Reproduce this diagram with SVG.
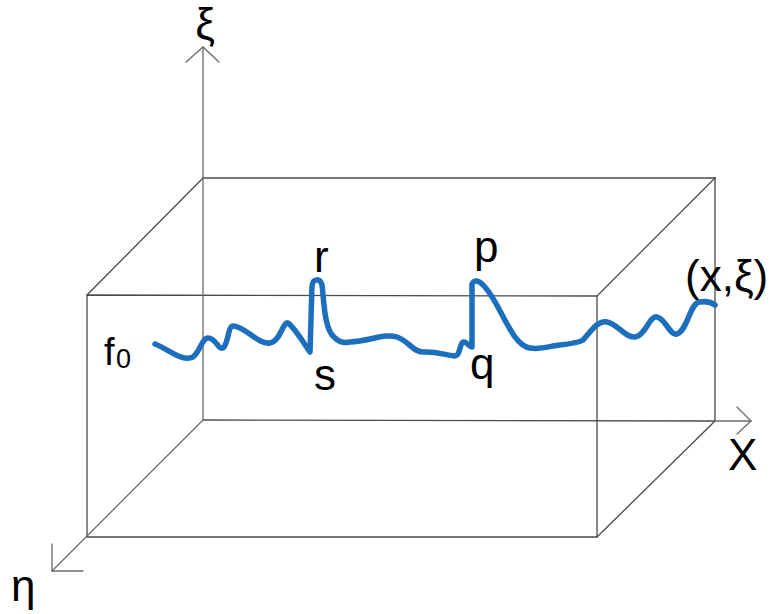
<svg xmlns="http://www.w3.org/2000/svg" width="779" height="614" viewBox="0 0 779 614">
<style>
.ln{stroke:#4a4a4a;stroke-width:1.3;fill:none;stroke-linecap:round}
.ax{stroke:#6a6a6a;stroke-width:1.3;fill:none;stroke-linecap:round;stroke-linejoin:miter}
.lb{font-family:"Liberation Sans",Arial,sans-serif;font-size:44px;fill:#000}
.curve{stroke:#1b6fbc;stroke-width:5.5;fill:none;stroke-linecap:round;stroke-linejoin:round}
</style>
<rect width="779" height="614" fill="#fff"/>
<g id="connectors">
  <line class="ln" x1="203" y1="178" x2="715" y2="178"/>
  <line class="ln" x1="715" y1="178" x2="715" y2="421"/>
  <line class="ln" x1="203" y1="420" x2="715" y2="421"/>
  <path class="ln" d="M87,295 L597,296 L597,537 L87,537 Z"/>
  <line class="ln" x1="203" y1="178" x2="87" y2="295"/>
  <line class="ln" x1="715" y1="178" x2="597" y2="296"/>
  <line class="ln" x1="715" y1="421" x2="597" y2="537"/>
  <line class="ax" x1="203" y1="420" x2="203" y2="47"/>
  <polyline class="ax" points="186,62 203,47 219,62"/>
  <line class="ax" x1="715" y1="421" x2="751" y2="421"/>
  <polyline class="ax" points="737,407 751,421 737,434"/>
  <line class="ax" x1="203" y1="420" x2="52" y2="571"/>
  <polyline class="ax" points="52,544 52,571 83,571"/>
</g>
<g id="curve">
  <path class="curve" d="M155,344 C170,350 182,362 193,357 C200,352 202,338 208,338 C216,338 218,350 223,348 C228,345 228,326 233,326 C245,326 258,345 270,343 C280,342 283,321 288,323 C295,328 305,345 310,352 L312,286 C313,278 320,278 322,285 C324,300 324,330 335,338 C340,343 345,343 350,342 C370,341 385,333 397,337 C410,342 413,352 423,352 C435,351 445,355 455,356 C460,356 460,343 463,342 C467,341 470,348 472,347 L472,284 C474,280 478,280 482,284 C500,300 510,345 530,348 C540,350 550,346 560,345 C570,344 578,343 583,340 C590,333 597,320 607,322 C618,324 625,338 635,337 C645,336 650,315 657,317 C665,318 670,336 677,334 C688,330 690,302 700,302 C706,301 711,302 715,305"/>
</g>
<g id="labels">
  <text class="lb" x="205" y="39" text-anchor="middle">ξ</text>
  <text class="lb" x="314" y="272">r</text>
  <text class="lb" x="314" y="390">s</text>
  <text class="lb" x="474" y="262">p</text>
  <text class="lb" x="470" y="379">q</text>
  <text class="lb" x="104" y="365" style="font-size:38px">f</text>
  <text class="lb" x="116" y="368" style="font-size:27px">0</text>
  <text class="lb" x="685" y="291">(x,ξ)</text>
  <text class="lb" x="728" y="470">X</text>
  <text class="lb" x="11" y="601">η</text>
</g>
</svg>
